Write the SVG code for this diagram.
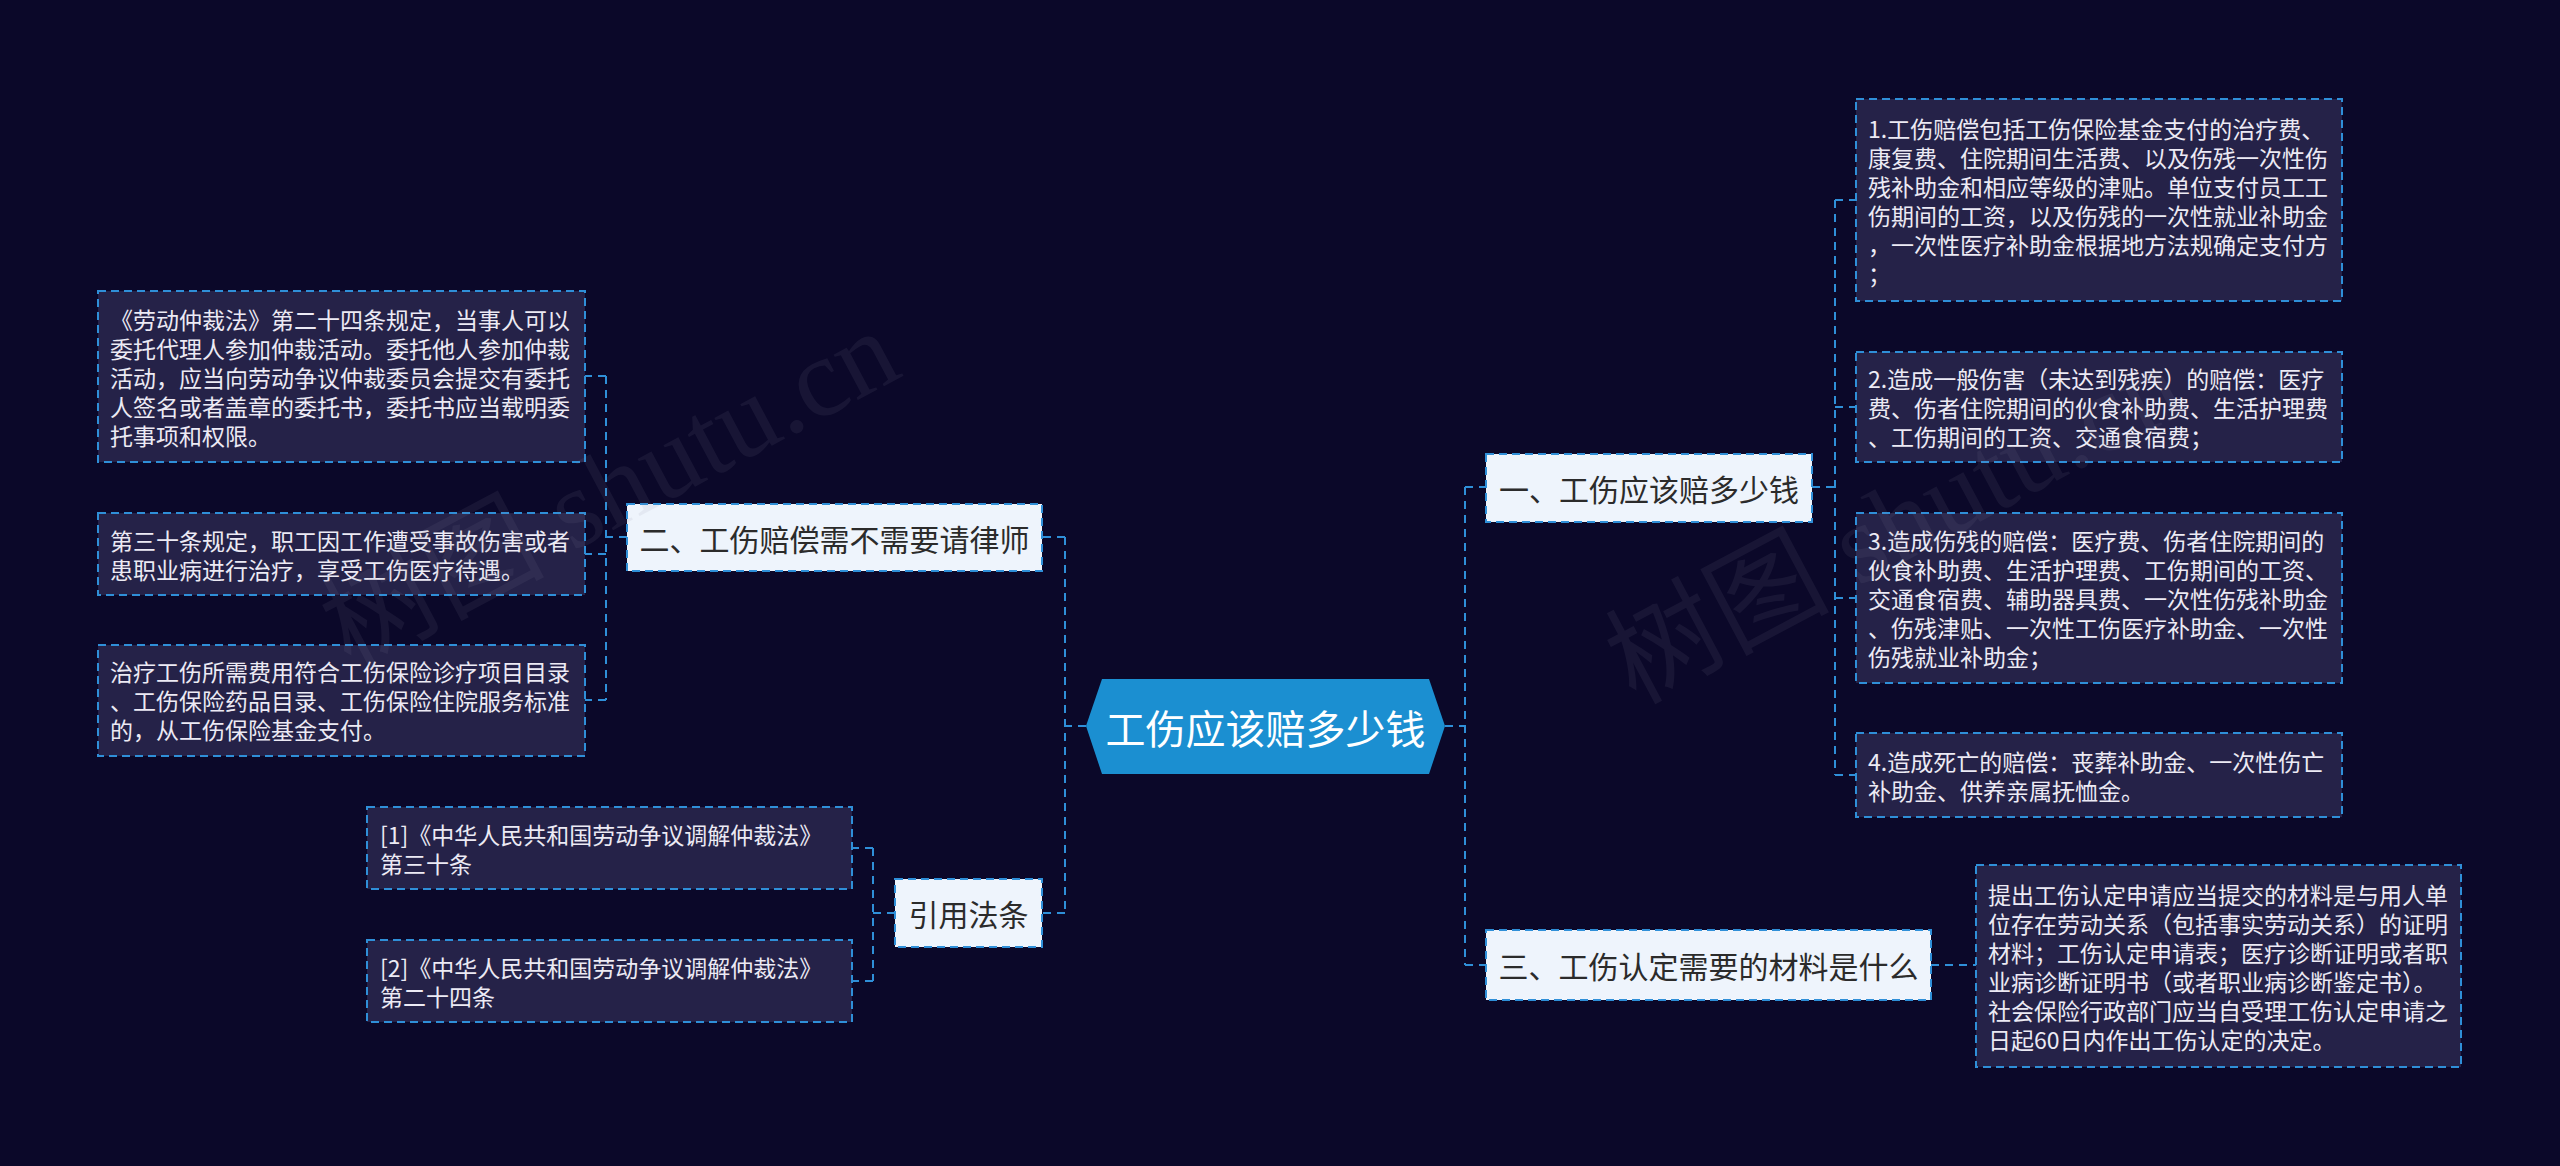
<svg xmlns="http://www.w3.org/2000/svg" width="2560" height="1166" viewBox="0 0 2560 1166">
<style>
.bg{fill:#0b0829}
.leaf{fill:#252248;stroke:#2f8fd8;stroke-width:2;stroke-dasharray:8 5}
.l1{fill:#eef4fc;stroke:#2f8fd8;stroke-width:2;stroke-dasharray:8 5}
.root{fill:#1b8fd1}
.lt{font-family:"Noto Sans CJK SC","Microsoft YaHei",sans-serif;font-size:23px;fill:#eceaf4;dominant-baseline:central}
.t1{font-family:"Noto Sans CJK SC","Microsoft YaHei",sans-serif;font-size:30px;fill:#2b2b2b;dominant-baseline:central;text-anchor:middle}
.t0{font-family:"Noto Sans CJK SC","Microsoft YaHei",sans-serif;font-size:40px;fill:#ffffff;dominant-baseline:central;text-anchor:middle}
.ln{fill:none;stroke:#2f8fd8;stroke-width:2;stroke-dasharray:8 6}
.wm{font-family:"Liberation Serif","Noto Sans CJK SC",serif;font-size:112px;fill:#8a8aa0;opacity:0.1}
</style>
<rect class="bg" x="0" y="0" width="2560" height="1166"/>

<g id="connectors">
  <path class="ln" d="M1445 726H1465M1465 487V965M1465 487H1486M1465 965H1486"/>
  <path class="ln" d="M1812 487H1835M1835 200V775M1835 200H1856M1835 407H1856M1835 598H1856M1835 775H1856"/>
  <path class="ln" d="M1931 965H1976"/>
  <path class="ln" d="M1086 726H1065M1065 537V913M1065 537H1042M1065 913H1042"/>
  <path class="ln" d="M627 537H606M606 376V700M606 376H585M606 554H585M606 700H585"/>
  <path class="ln" d="M895 913H873M873 848V981M873 848H852M873 981H852"/>
</g>

<g id="root">
  <polygon class="root" points="1086,726 1102,679 1429,679 1445,726 1429,774 1102,774"/>
  <text class="t0" x="1265.5" y="727">工伤应该赔多少钱</text>
</g>

<g id="n1">
  <rect class="l1" x="1486" y="454" width="326" height="68"/>
  <text class="t1" x="1649" y="488">一、工伤应该赔多少钱</text>
</g>
<g id="n3">
  <rect class="l1" x="1486" y="930" width="445" height="70"/>
  <text class="t1" x="1708.5" y="965">三、工伤认定需要的材料是什么</text>
</g>
<g id="n2">
  <rect class="l1" x="627" y="504" width="415" height="67"/>
  <text class="t1" x="834.5" y="538">二、工伤赔偿需不需要请律师</text>
</g>
<g id="ncite">
  <rect class="l1" x="895" y="879" width="147" height="68"/>
  <text class="t1" x="968.5" y="913">引用法条</text>
</g>

<g id="r1">
  <rect class="leaf" x="1856" y="99" width="486" height="202"/>
  <text class="lt" x="1868" y="127.5">1.工伤赔偿包括工伤保险基金支付的治疗费、</text>
  <text class="lt" x="1868" y="156.5">康复费、住院期间生活费、以及伤残一次性伤</text>
  <text class="lt" x="1868" y="185.5">残补助金和相应等级的津贴。单位支付员工工</text>
  <text class="lt" x="1868" y="214.5">伤期间的工资，以及伤残的一次性就业补助金</text>
  <text class="lt" x="1868" y="243.5">，一次性医疗补助金根据地方法规确定支付方</text>
  <text class="lt" x="1868" y="272.5">；</text>
</g>
<g id="r2">
  <rect class="leaf" x="1856" y="352" width="486" height="110"/>
  <text class="lt" x="1868" y="378">2.造成一般伤害（未达到残疾）的赔偿：医疗</text>
  <text class="lt" x="1868" y="407">费、伤者住院期间的伙食补助费、生活护理费</text>
  <text class="lt" x="1868" y="436">、工伤期间的工资、交通食宿费；</text>
</g>
<g id="r3">
  <rect class="leaf" x="1856" y="513" width="486" height="170"/>
  <text class="lt" x="1868" y="540">3.造成伤残的赔偿：医疗费、伤者住院期间的</text>
  <text class="lt" x="1868" y="569">伙食补助费、生活护理费、工伤期间的工资、</text>
  <text class="lt" x="1868" y="598">交通食宿费、辅助器具费、一次性伤残补助金</text>
  <text class="lt" x="1868" y="627">、伤残津贴、一次性工伤医疗补助金、一次性</text>
  <text class="lt" x="1868" y="656">伤残就业补助金；</text>
</g>
<g id="r4">
  <rect class="leaf" x="1856" y="733" width="486" height="84"/>
  <text class="lt" x="1868" y="761">4.造成死亡的赔偿：丧葬补助金、一次性伤亡</text>
  <text class="lt" x="1868" y="790">补助金、供养亲属抚恤金。</text>
</g>
<g id="r5">
  <rect class="leaf" x="1976" y="865" width="485" height="202"/>
  <text class="lt" x="1988" y="893.5">提出工伤认定申请应当提交的材料是与用人单</text>
  <text class="lt" x="1988" y="922.5">位存在劳动关系（包括事实劳动关系）的证明</text>
  <text class="lt" x="1988" y="951.5">材料；工伤认定申请表；医疗诊断证明或者职</text>
  <text class="lt" x="1988" y="980.5">业病诊断证明书（或者职业病诊断鉴定书）。</text>
  <text class="lt" x="1988" y="1009.5">社会保险行政部门应当自受理工伤认定申请之</text>
  <text class="lt" x="1988" y="1038.5">日起60日内作出工伤认定的决定。</text>
</g>

<g id="l1">
  <rect class="leaf" x="98" y="291" width="487" height="171"/>
  <text class="lt" x="110" y="318.5">《劳动仲裁法》第二十四条规定，当事人可以</text>
  <text class="lt" x="110" y="347.5">委托代理人参加仲裁活动。委托他人参加仲裁</text>
  <text class="lt" x="110" y="376.5">活动，应当向劳动争议仲裁委员会提交有委托</text>
  <text class="lt" x="110" y="405.5">人签名或者盖章的委托书，委托书应当载明委</text>
  <text class="lt" x="110" y="434.5">托事项和权限。</text>
</g>
<g id="l2">
  <rect class="leaf" x="98" y="513" width="487" height="82"/>
  <text class="lt" x="110" y="540">第三十条规定，职工因工作遭受事故伤害或者</text>
  <text class="lt" x="110" y="569">患职业病进行治疗，享受工伤医疗待遇。</text>
</g>
<g id="l3">
  <rect class="leaf" x="98" y="645" width="487" height="111"/>
  <text class="lt" x="110" y="671">治疗工伤所需费用符合工伤保险诊疗项目目录</text>
  <text class="lt" x="110" y="700">、工伤保险药品目录、工伤保险住院服务标准</text>
  <text class="lt" x="110" y="729">的，从工伤保险基金支付。</text>
</g>
<g id="c1">
  <rect class="leaf" x="367" y="807" width="485" height="82"/>
  <text class="lt" x="380" y="834">[1]《中华人民共和国劳动争议调解仲裁法》</text>
  <text class="lt" x="380" y="863">第三十条</text>
</g>
<g id="c2">
  <rect class="leaf" x="367" y="940" width="485" height="82"/>
  <text class="lt" x="380" y="967">[2]《中华人民共和国劳动争议调解仲裁法》</text>
  <text class="lt" x="380" y="996">第二十四条</text>
</g>

<g id="watermark">
  <text class="wm" x="350" y="670" transform="rotate(-28 350 670)">树图 shutu.cn</text>
  <text class="wm" x="1635" y="705" transform="rotate(-28 1635 705)">树图 shutu.cn</text>
</g>
</svg>
